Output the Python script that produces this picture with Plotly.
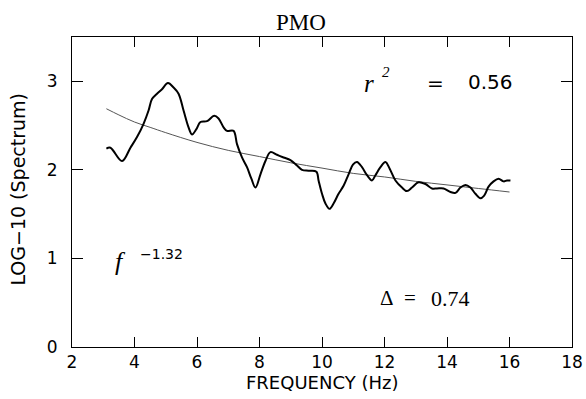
import plotly.graph_objects as go

# Spectrum curve
freq = [3.10, 3.23, 3.60, 3.87, 4.08, 4.29, 4.45, 4.56, 4.72, 4.88,
        5.07, 5.25, 5.41, 5.57, 5.73, 5.84, 5.98, 6.11, 6.32, 6.55,
        6.69, 6.85, 6.96, 7.17, 7.28, 7.44, 7.60, 7.74, 7.87, 8.03,
        8.19, 8.35, 8.56, 8.77, 8.99, 9.20, 9.36, 9.57, 9.82, 9.89,
        10.00, 10.11, 10.24, 10.37, 10.53, 10.69, 10.85, 10.99, 11.12, 11.28,
        11.44, 11.60, 11.71, 11.87, 12.03, 12.17, 12.35, 12.56, 12.72, 12.88,
        13.09, 13.31, 13.52, 13.68, 13.89, 14.11, 14.27, 14.43, 14.59, 14.75,
        14.91, 15.07, 15.19, 15.33, 15.49, 15.65, 15.81, 15.92, 16.03]
spectrum = [2.24, 2.25, 2.10, 2.25, 2.37, 2.52, 2.67, 2.80, 2.86, 2.91,
            2.98, 2.93, 2.86, 2.67, 2.48, 2.40, 2.46, 2.54, 2.55, 2.61,
            2.58, 2.48, 2.44, 2.44, 2.29, 2.14, 2.03, 1.90, 1.80, 1.95,
            2.10, 2.20, 2.17, 2.14, 2.11, 2.05, 2.00, 1.99, 1.98, 1.88,
            1.73, 1.62, 1.56, 1.62, 1.73, 1.82, 1.95, 2.06, 2.09, 2.03,
            1.94, 1.88, 1.94, 2.03, 2.09, 2.01, 1.88, 1.80, 1.76, 1.80,
            1.86, 1.84, 1.79, 1.79, 1.79, 1.75, 1.74, 1.80, 1.83, 1.80,
            1.73, 1.68, 1.71, 1.81, 1.87, 1.90, 1.87, 1.88, 1.88]

# Fitted power-law curve
fit_freq = [3.1, 3.5, 4, 4.5, 5, 6, 7, 8, 9, 10, 11, 12, 13, 14, 15, 16]
fit_vals = [2.69, 2.62, 2.54, 2.48, 2.42, 2.31, 2.22, 2.15, 2.08, 2.02,
            1.96, 1.92, 1.87, 1.83, 1.79, 1.75]

x_ticks = [2, 4, 6, 8, 10, 12, 14, 16, 18]
y_ticks = [0, 1, 2, 3]

SANS = "DejaVu Sans"
SERIF = "Liberation Serif"

fig = go.Figure()
fig.add_trace(go.Scatter(x=fit_freq, y=fit_vals, mode="lines",
                         line=dict(color="#555555", width=1, shape="spline"),
                         showlegend=False, hoverinfo="skip"))
fig.add_trace(go.Scatter(x=freq, y=spectrum, mode="lines",
                         line=dict(color="black", width=2, shape="spline"),
                         showlegend=False, hoverinfo="skip"))

fig.update_layout(
    width=586, height=399,
    margin=dict(l=72, r=14, t=37, b=52, autoexpand=False),
    paper_bgcolor="white", plot_bgcolor="white",
    title=dict(text="PMO", x=301/586, xanchor="center", y=1-22/399, yanchor="middle",
               font=dict(family=SERIF, size=23, color="black")),
)
fig.update_xaxes(range=[2, 18], tickvals=x_ticks, ticktext=[str(v) for v in x_ticks],
                 ticks="inside", ticklen=10, tickcolor="black", tickwidth=1,
                 showline=True, linecolor="black", linewidth=1, mirror="ticks",
                 showgrid=False, zeroline=False,
                 tickfont=dict(family=SANS, size=17, color="black"))
fig.update_yaxes(range=[0, 3.5], tickvals=y_ticks, ticktext=[str(v) for v in y_ticks],
                 ticks="inside", ticklen=11, tickcolor="black", tickwidth=1,
                 showline=True, linecolor="black", linewidth=1, mirror="ticks",
                 showgrid=False, zeroline=False, ticklabelstandoff=10,
                 tickfont=dict(family=SANS, size=17, color="black"))

ann = []
# axis titles
ann.append(dict(text="FREQUENCY (Hz)", xref="paper", yref="paper", x=0.5, y=(346.7-382)/310,
                xanchor="center", yanchor="middle",
                showarrow=False, font=dict(family=SANS, size=18, color="black")))
ann.append(dict(text="LOG−10 (Spectrum)", xref="paper", yref="paper",
                x=(18-71.7)/500, y=(346.7-189)/310, textangle=-90,
                xanchor="center", yanchor="middle",
                showarrow=False, font=dict(family=SANS, size=19, color="black")))
# r^2 = 0.56
ann.append(dict(text="<i>r</i>", x=11.50, y=2.97, showarrow=False,
                font=dict(family=SERIF, size=25, color="black")))
ann.append(dict(text="<i>2</i>", x=12.05, y=3.10, showarrow=False,
                font=dict(family=SERIF, size=15, color="black")))
ann.append(dict(text="=", x=13.64, y=2.98, showarrow=False,
                font=dict(family=SANS, size=20, color="black")))
ann.append(dict(text="0.56", x=15.39, y=2.99, showarrow=False,
                font=dict(family=SANS, size=20, color="black")))
# f^-1.32
ann.append(dict(text="<i>f</i>", x=3.55, y=0.96, showarrow=False,
                font=dict(family=SERIF, size=26, color="black")))
ann.append(dict(text="−1.32", x=4.12, y=1.045, xanchor="left", showarrow=False,
                font=dict(family=SANS, size=14, color="black")))
# Delta = 0.74
ann.append(dict(text="Δ", x=12.07, y=0.55, showarrow=False,
                font=dict(family=SERIF, size=21, color="black")))
ann.append(dict(text="=", x=12.82, y=0.55, showarrow=False,
                font=dict(family=SERIF, size=21, color="black")))
ann.append(dict(text="0.74", x=14.12, y=0.55, showarrow=False,
                font=dict(family=SERIF, size=22, color="black")))
fig.update_layout(annotations=ann)

fig.write_html("out.html", config={"displayModeBar": False},
               post_script="document.body.style.margin='0';")
